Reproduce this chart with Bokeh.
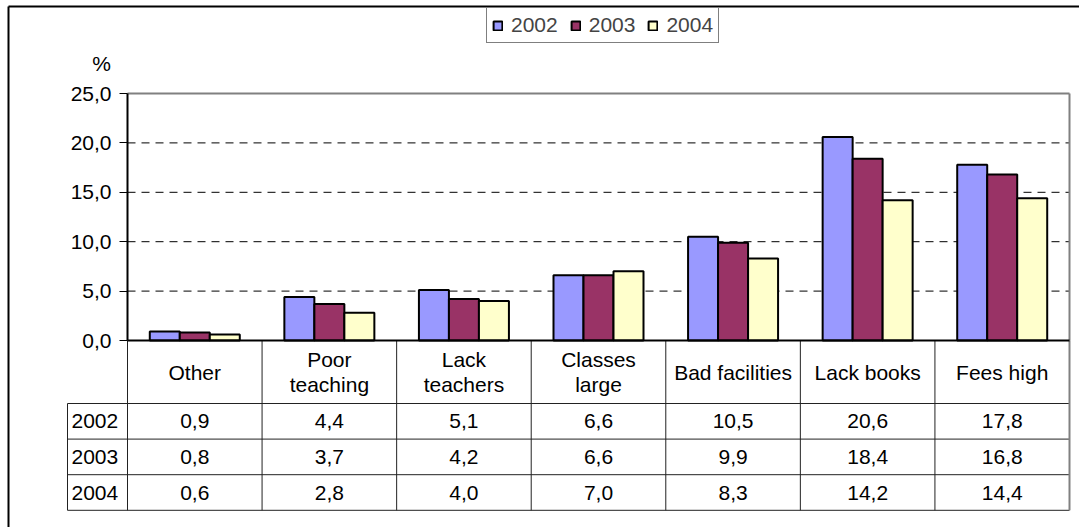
import numpy as np
from bokeh.plotting import figure
from bokeh.models import (Range1d, LinearAxis, FixedTicker, Legend, LegendItem,
                          ColumnDataSource, Label, CustomJSTickFormatter)
from bokeh.core.properties import value
from bokeh.embed import file_html
from bokeh.resources import INLINE

# ---------------- data ----------------
categories = ["Other", "Poor\nteaching", "Lack\nteachers", "Classes\nlarge",
              "Bad facilities", "Lack books", "Fees high"]
years = ["2002", "2003", "2004"]
values_2002 = [0.9, 4.4, 5.1, 6.6, 10.5, 20.6, 17.8]
values_2003 = [0.8, 3.7, 4.2, 6.6, 9.9, 18.4, 16.8]
values_2004 = [0.6, 2.8, 4.0, 7.0, 8.3, 14.2, 14.4]
series = [values_2002, values_2003, values_2004]
colors = ["#9999FF", "#993366", "#FFFFCC"]
y_ticks = [0, 5, 10, 15, 20, 25]
y_unit = "%"

# ---------------- layout (canvas pixels) ----------------
W, H = 1079, 527
PX_LEFT, PX_RIGHT = 127, 1069     # plot area left/right
PX_TOP, PX_ZERO = 93, 340         # pixel rows of top tick and of zero
BORDER_X, BORDER_Y = 8, 6         # outer chart border
HDR_PX, ROW_PX, YEARCOL_PX = 63, 35.6, 60
BAR_PX = 30
FONT = "Liberation Sans"
FS = "21px"

ncat = len(categories)
ymax = y_ticks[-1]
kx = (PX_RIGHT - PX_LEFT) / ncat
ky = (PX_ZERO - PX_TOP) / ymax


def dx(px):
    return (px - PX_LEFT) / kx


def dy(py):
    return (PX_ZERO - py) / ky


p = figure(width=W, height=H, x_range=Range1d(dx(0), dx(W)),
           y_range=Range1d(dy(H), dy(0)), x_axis_location=None,
           y_axis_location=None, toolbar_location=None, output_backend="svg",
           min_border=0, outline_line_color=None, title=None)
p.grid.visible = False
p.background_fill_color = "white"
p.border_fill_color = "white"

# outer chart border (left and top)
p.segment(x0=[dx(BORDER_X), dx(BORDER_X)], y0=[dy(H), dy(BORDER_Y)],
          x1=[dx(BORDER_X), dx(W)], y1=[dy(BORDER_Y), dy(BORDER_Y)],
          line_color="black", line_width=2)

# dashed gridlines
grid_t = y_ticks[1:-1]
p.segment(x0=[0] * len(grid_t), x1=[ncat] * len(grid_t), y0=grid_t, y1=grid_t,
          line_color="black", line_width=1, line_dash="8 6")

# plot area border top/right (grey)
p.segment(x0=[0, ncat], y0=[ymax, 0], x1=[ncat, ncat], y1=[ymax, ymax],
          line_color="#808080", line_width=2)

# bars
bw = BAR_PX / kx
idx = np.arange(ncat) + 0.5
renderers = []
for k, (yr, vals, col) in enumerate(zip(years, series, colors)):
    src = ColumnDataSource(dict(x=idx + (k - 1) * bw, top=vals))
    r = p.vbar(x="x", top="top", width=bw, bottom=0, source=src,
               fill_color=col, line_color="black", line_width=2)
    renderers.append(r)

# table geometry
hdr_y = -HDR_PX / ky
row_h = ROW_PX / ky
row_bottoms = [hdr_y - (k + 1) * row_h for k in range(len(years))]
tbl_bottom = row_bottoms[-1]
year_x0 = -YEARCOL_PX / kx

# table lines
hx0 = [year_x0] * (1 + len(years))
hy = [hdr_y] + row_bottoms
p.segment(x0=hx0, x1=[ncat] * len(hy), y0=hy, y1=hy, line_color="#222222", line_width=1)
vx = list(range(ncat))
p.segment(x0=vx, x1=vx, y0=[0] * len(vx), y1=[tbl_bottom] * len(vx),
          line_color="#222222", line_width=1)
p.segment(x0=[year_x0], x1=[year_x0], y0=[hdr_y], y1=[tbl_bottom],
          line_color="#222222", line_width=1)
p.segment(x0=[ncat], x1=[ncat], y0=[0], y1=[tbl_bottom], line_color="#808080", line_width=2)
# category axis line
p.segment(x0=[0], x1=[ncat], y0=[0], y1=[0], line_color="black", line_width=2)

# category labels
p.text(x=idx, y=[hdr_y / 2] * ncat, text=categories, text_align="center",
       text_baseline="middle", text_font=value(FONT), text_font_size=FS,
       text_color="black", text_line_height=1.1)

# values
for k, (yr, vals) in enumerate(zip(years, series)):
    yc = row_bottoms[k] + row_h / 2
    p.text(x=idx, y=[yc] * ncat, text=[f"{v:.1f}".replace(".", ",") for v in vals],
           text_align="center", text_baseline="middle", text_font=value(FONT),
           text_font_size=FS, text_color="black")
    p.text(x=[year_x0 + 4 / kx], y=[yc], text=[yr], text_align="left",
           text_baseline="middle", text_font=value(FONT), text_font_size=FS,
           text_color="black")

# y axis
yax = LinearAxis(fixed_location=0, bounds=(0, ymax), ticker=FixedTicker(ticks=y_ticks),
                 formatter=CustomJSTickFormatter(code="return tick.toFixed(1).replace('.', ',')"),
                 major_tick_out=8, major_tick_in=0, minor_tick_out=0, minor_tick_in=0,
                 axis_line_color="black", axis_line_width=2, major_tick_line_color="black",
                 major_label_standoff=8, major_label_text_font=FONT,
                 major_label_text_font_size=FS, major_label_text_color="black")
p.add_layout(yax, "left")

p.add_layout(Label(x=0, y=ymax, text=y_unit, x_offset=-26, y_offset=30,
                   text_align="center", text_baseline="middle",
                   text_font=FONT, text_font_size=FS, text_color="black"))

legend = Legend(items=[LegendItem(label=yr, renderers=[r]) for yr, r in zip(years, renderers)],
                orientation="horizontal", location=(486, H - 43),
                glyph_width=11, glyph_height=11, label_standoff=8, spacing=12,
                padding=5, margin=0, label_height=22,
                label_text_font=FONT, label_text_font_size=FS,
                border_line_color="black", border_line_width=1,
                background_fill_color="white", background_fill_alpha=1)
p.add_layout(legend)

open("out.html", "w").write(file_html(p, INLINE))
